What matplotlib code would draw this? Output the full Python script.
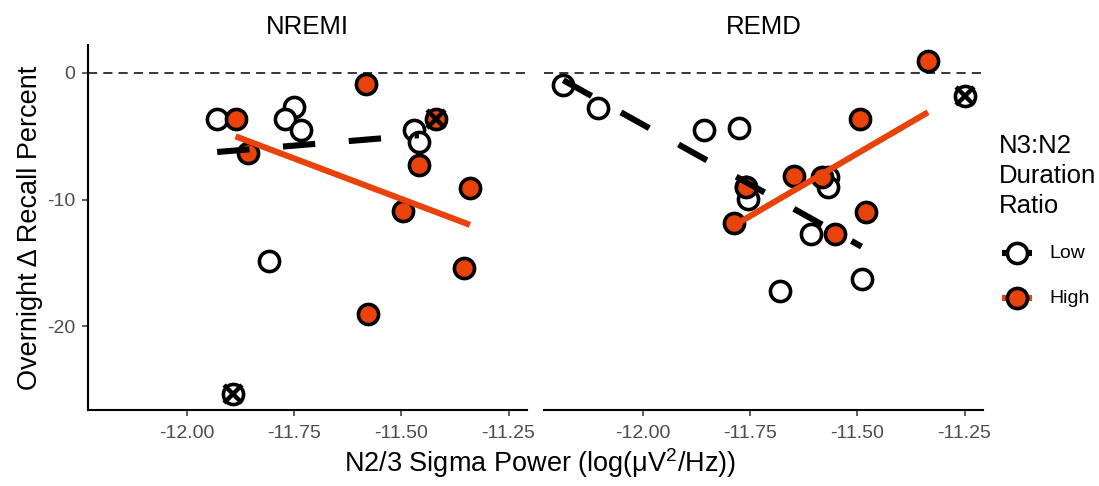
import numpy as np
import matplotlib
matplotlib.use("Agg")
import matplotlib.pyplot as plt

plt.rcParams['font.family'] = ['Liberation Sans', 'DejaVu Sans']
plt.rcParams['axes.unicode_minus'] = False
plt.rcParams['mathtext.fontset'] = 'custom'
plt.rcParams['mathtext.rm'] = 'Liberation Sans'
plt.rcParams['mathtext.it'] = 'Liberation Sans:italic'

# ---------------- data ----------------
panels = ["NREMI", "REMD"]

nremi_low_x = [-11.929, -11.750, -11.770, -11.733, -11.808, -11.471, -11.459]
nremi_low_y = [-3.65, -2.68, -3.60, -4.52, -14.84, -4.52, -5.44]
nremi_high_x = [-11.886, -11.856, -11.583, -11.459, -11.496, -11.340, -11.353, -11.577]
nremi_high_y = [-3.65, -6.36, -0.89, -7.28, -10.89, -9.07, -15.39, -18.99]
nremi_out_low_x = [-11.891]
nremi_out_low_y = [-25.36]
nremi_out_high_x = [-11.420]
nremi_out_high_y = [-3.60]

remd_low_x = [-12.185, -12.103, -11.857, -11.776, -11.760, -11.754, -11.569, -11.569, -11.607, -11.679, -11.490]
remd_low_y = [-0.92, -2.76, -4.52, -4.31, -9.00, -9.99, -8.20, -9.00, -12.68, -17.20, -16.30]
remd_high_x = [-11.335, -11.493, -11.647, -11.583, -11.760, -11.787, -11.479, -11.552]
remd_high_y = [0.95, -3.60, -8.13, -8.20, -9.00, -11.84, -10.97, -12.68]
remd_out_low_x = [-11.250]
remd_out_low_y = [-1.84]
remd_out_high_x = []
remd_out_high_y = []

x_ticks = [-12.00, -11.75, -11.50, -11.25]
y_ticks = [0, -10, -20]
legend_title = "N3:N2\nDuration\nRatio"
legend_labels = ["Low", "High"]

ORANGE = '#E8430A'
GREY = '#4D4D4D'

data = {
    "NREMI": dict(lx=nremi_low_x, ly=nremi_low_y, hx=nremi_high_x, hy=nremi_high_y,
                  olx=nremi_out_low_x, oly=nremi_out_low_y, ohx=nremi_out_high_x, ohy=nremi_out_high_y),
    "REMD": dict(lx=remd_low_x, ly=remd_low_y, hx=remd_high_x, hy=remd_high_y,
                 olx=remd_out_low_x, oly=remd_out_low_y, ohx=remd_out_high_x, ohy=remd_out_high_y),
}

fig = plt.figure(figsize=(10.99, 4.86), dpi=100)
W, H = 1099, 486
bottom = 1 - 410 / H
height = (410 - 45) / H
axes = [fig.add_axes([88 / W, bottom, 439 / W, height]),
        fig.add_axes([544 / W, bottom, 439 / W, height])]

MS = 14.5
MEW = 2.6
LW = 4.4

def fit_line(ax, x, y, color, ls):
    x = np.asarray(x); y = np.asarray(y)
    b, a = np.polyfit(x, y, 1)
    xs = np.array([x.min(), x.max()])
    ax.plot(xs, a + b * xs, color=color, lw=LW, ls=ls, solid_capstyle='butt',
            dash_capstyle='butt', zorder=5)

for i, (ax, name) in enumerate(zip(axes, panels)):
    d = data[name]
    ax.axhline(0, color='black', lw=1.1, ls=(0, (6, 4)), zorder=1)
    ax.plot(d['lx'], d['ly'], 'o', ms=MS, mfc='white', mec='black', mew=MEW, zorder=3)
    ax.plot(d['olx'], d['oly'], 'o', ms=MS, mfc='white', mec='black', mew=MEW, zorder=3)
    ax.plot(d['hx'], d['hy'], 'o', ms=MS, mfc=ORANGE, mec='black', mew=MEW, zorder=4)
    ax.plot(d['ohx'], d['ohy'], 'o', ms=MS, mfc=ORANGE, mec='black', mew=MEW, zorder=4)
    fit_line(ax, d['lx'], d['ly'], 'black', (0, (5.3, 5.5)))
    fit_line(ax, d['hx'], d['hy'], ORANGE, '-')
    ox = list(d['olx']) + list(d['ohx'])
    oy = list(d['oly']) + list(d['ohy'])
    ax.plot(ox, oy, 'x', ms=13, mec='black', mew=3.2, zorder=6)

    ax.set_xlim(-12.23, -11.207)
    ax.set_ylim(-26.6, 2.2)
    ax.set_xticks(x_ticks)
    ax.set_xticklabels([f"{t:.2f}" for t in x_ticks])
    ax.tick_params(axis='x', length=4, width=1.1, colors='#333333', labelcolor=GREY,
                   labelsize=14, pad=7)
    for s in ['top', 'right']:
        ax.spines[s].set_visible(False)
    ax.spines['bottom'].set_linewidth(1.5)
    ax.spines['left'].set_linewidth(1.5)
    if i == 0:
        ax.set_yticks(y_ticks)
        ax.set_yticklabels([str(t) for t in y_ticks])
        ax.tick_params(axis='y', length=4, width=1.1, colors='#333333', labelcolor=GREY,
                       labelsize=14, pad=5)
    else:
        ax.spines['left'].set_visible(False)
        ax.set_yticks([])
    ax.set_title(name, fontsize=18.5, pad=8)

fig.text(540 / W, 1 - 463 / H, r"N2/3 Sigma Power (log($\mathrm{\mu V^2/Hz}$))",
         ha='center', va='center', fontsize=19.5)
fig.text(30 / W, 1 - 228 / H, "Overnight \u0394 Recall Percent", rotation=90,
         ha='center', va='center', fontsize=19.5)

# legend drawn in a pixel-coordinate overlay
lax = fig.add_axes([0, 0, 1, 1], zorder=10)
lax.set_xlim(0, W)
lax.set_ylim(H, 0)
lax.axis('off')
lax.text(999, 176, legend_title, ha='left', va='center', fontsize=18.5, linespacing=1.3)
key_y = [253, 298]
key_col = ['black', ORANGE]
key_fill = ['white', ORANGE]
for ky, lab, c, f in zip(key_y, legend_labels, key_col, key_fill):
    lax.plot([1002, 1032], [ky, ky], color=c, lw=LW, solid_capstyle='butt')
    lax.plot([1017], [ky], 'o', ms=MS, mfc=f, mec='black', mew=MEW)
    lax.text(1049, ky, lab, ha='left', va='center', fontsize=14)

fig.savefig("out.png", dpi=100)
